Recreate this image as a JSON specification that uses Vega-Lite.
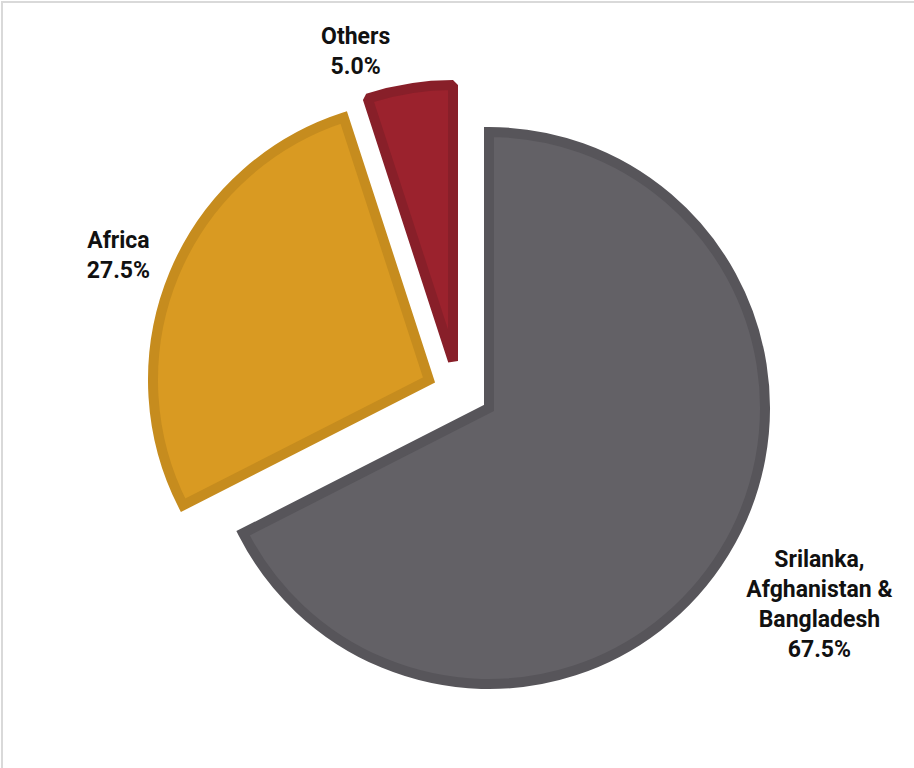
{
  "$schema": "https://vega.github.io/schema/vega-lite/v6.json",
  "width": 913,
  "height": 767,
  "padding": {"left": 2, "top": 2, "right": 0, "bottom": 0},
  "autosize": {"type": "none"},
  "background": "#ffffff",
  "view": {"stroke": "#d9d9d9", "strokeWidth": 2, "fill": "#ffffff"},
  "config": {"view": {"stroke": "#d9d9d9", "strokeWidth": 2}},
  "data": {
    "values": [
      {"category": "Srilanka, Afghanistan & Bangladesh", "share": 67.5, "order": 1, "label": "Srilanka,\nAfghanistan &\nBangladesh\n67.5%"},
      {"category": "Africa", "share": 27.5, "order": 2, "label": "Africa\n27.5%"},
      {"category": "Others", "share": 5.0, "order": 3, "label": "Others\n5.0%"}
    ]
  },
  "transform": [
    {"stack": "share", "groupby": [], "sort": [{"field": "order", "order": "ascending"}], "as": ["s0", "s1"]}
  ],
  "layer": [
    {
      "transform": [{"filter": "datum.category === 'Srilanka, Afghanistan & Bangladesh'"}],
      "mark": {"type": "arc", "outerRadius": 276, "xOffset": 30.5, "yOffset": 22.5, "fill": "#636166", "stroke": "#57555a", "strokeWidth": 10, "strokeJoin": "miter"},
      "encoding": {
        "theta": {"field": "s0", "type": "quantitative", "scale": {"domain": [0, 100]}},
        "theta2": {"field": "s1"}
      }
    },
    {
      "transform": [{"filter": "datum.category === 'Africa'"}],
      "mark": {"type": "arc", "outerRadius": 276, "xOffset": -29.5, "yOffset": -5.5, "fill": "#d99a22", "stroke": "#c68c1e", "strokeWidth": 10, "strokeJoin": "miter"},
      "encoding": {
        "theta": {"field": "s0", "type": "quantitative", "scale": {"domain": [0, 100]}},
        "theta2": {"field": "s1"}
      }
    },
    {
      "transform": [{"filter": "datum.category === 'Others'"}],
      "mark": {"type": "arc", "outerRadius": 276, "xOffset": -5.5, "yOffset": -24.5, "fill": "#9b222d", "stroke": "#881f29", "strokeWidth": 10, "strokeJoin": "bevel"},
      "encoding": {
        "theta": {"field": "s0", "type": "quantitative", "scale": {"domain": [0, 100]}},
        "theta2": {"field": "s1"}
      }
    },
    {
      "mark": {"type": "text", "radius": 384, "xOffset": 33.5, "yOffset": -26.5, "align": "center", "baseline": "middle", "font": "Roboto, DejaVu Sans Condensed, sans-serif", "fontWeight": "bold", "fontSize": 23, "lineHeight": 30, "lineBreak": "\n", "fill": "#111111"},
      "encoding": {
        "theta": {"field": "share", "type": "quantitative", "stack": true, "scale": {"domain": [0, 100]}},
        "order": {"field": "order", "type": "quantitative", "sort": "ascending"},
        "text": {"condition": {"test": "datum.order === 1", "field": "label"}, "value": ""}
      }
    },
    {
      "mark": {"type": "text", "radius": 334, "xOffset": -31.5, "yOffset": -16.5, "align": "center", "baseline": "middle", "font": "Roboto, DejaVu Sans Condensed, sans-serif", "fontWeight": "bold", "fontSize": 23, "lineHeight": 30, "lineBreak": "\n", "fill": "#111111"},
      "encoding": {
        "theta": {"field": "share", "type": "quantitative", "stack": true, "scale": {"domain": [0, 100]}},
        "order": {"field": "order", "type": "quantitative", "sort": "ascending"},
        "text": {"condition": {"test": "datum.order === 2", "field": "label"}, "value": ""}
      }
    },
    {
      "mark": {"type": "text", "radius": 322, "xOffset": -52.5, "yOffset": -30.5, "align": "center", "baseline": "middle", "font": "Roboto, DejaVu Sans Condensed, sans-serif", "fontWeight": "bold", "fontSize": 23, "lineHeight": 30, "lineBreak": "\n", "fill": "#111111"},
      "encoding": {
        "theta": {"field": "share", "type": "quantitative", "stack": true, "scale": {"domain": [0, 100]}},
        "order": {"field": "order", "type": "quantitative", "sort": "ascending"},
        "text": {"condition": {"test": "datum.order === 3", "field": "label"}, "value": ""}
      }
    }
  ]
}
